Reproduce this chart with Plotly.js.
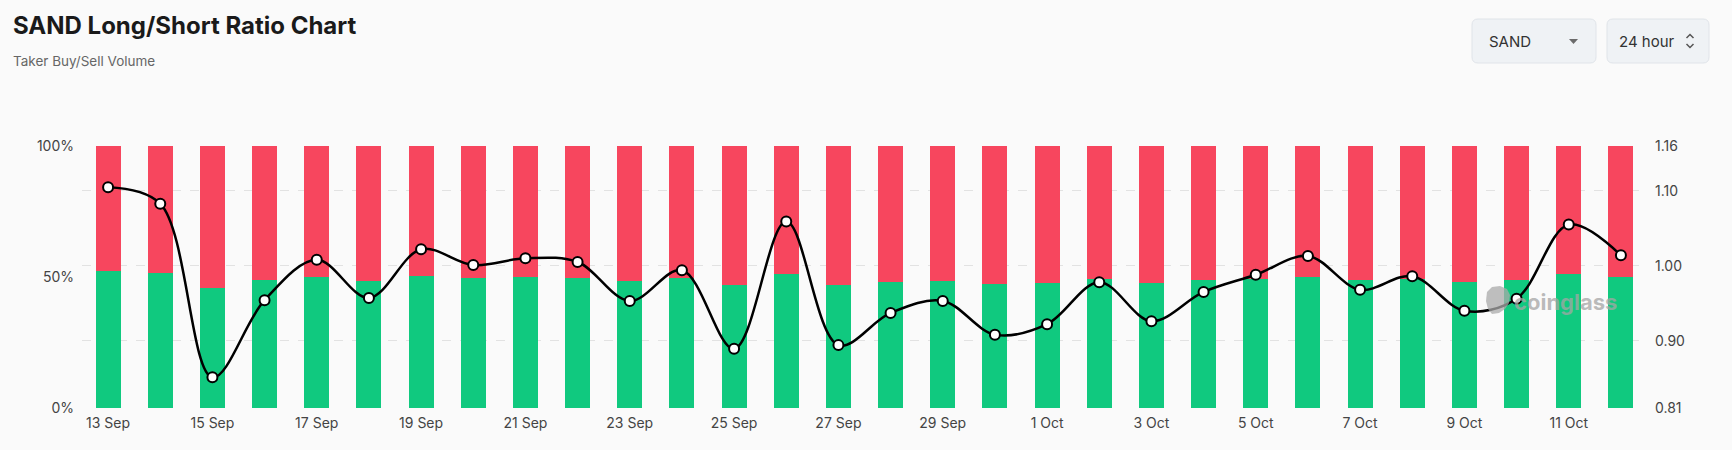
<!DOCTYPE html>
<html>
<head>
<meta charset="utf-8">
<script src="https://cdn.plot.ly/plotly-3.0.1.min.js"></script>
<style>
  html, body { margin: 0; padding: 0; background: #fafafa; }
  #chart { width: 1732px; height: 450px; }
</style>
</head>
<body>
<div id="chart"></div>
<script>
// ---- Data ----
const dates = ["13 Sep","14 Sep","15 Sep","16 Sep","17 Sep","18 Sep","19 Sep","20 Sep","21 Sep","22 Sep",
               "23 Sep","24 Sep","25 Sep","26 Sep","27 Sep","28 Sep","29 Sep","30 Sep","1 Oct","2 Oct",
               "3 Oct","4 Oct","5 Oct","6 Oct","7 Oct","8 Oct","9 Oct","10 Oct","11 Oct","12 Oct"];
const longPct  = [52.2, 51.7, 45.9, 48.7, 50.0, 48.6, 50.4, 49.8, 50.0, 49.8,
                  48.5, 49.8, 46.9, 51.3, 47.0, 48.2, 48.6, 47.5, 47.8, 49.1,
                  47.8, 48.9, 49.4, 50.0, 48.9, 49.1, 48.2, 48.7, 51.2, 50.1];
const shortPct = [47.8, 48.3, 54.1, 51.3, 50.0, 51.4, 49.6, 50.2, 50.0, 50.2,
                  51.5, 50.2, 53.1, 48.7, 53.0, 51.8, 51.4, 52.5, 52.2, 50.9,
                  52.2, 51.1, 50.6, 50.0, 51.1, 50.9, 51.8, 51.3, 48.8, 49.9];
const ratio    = [1.105, 1.083, 0.851, 0.954, 1.008, 0.957, 1.022, 1.001, 1.010, 1.005,
                  0.953, 0.994, 0.889, 1.059, 0.894, 0.937, 0.953, 0.908, 0.922, 0.978,
                  0.926, 0.965, 0.988, 1.013, 0.968, 0.986, 0.940, 0.956, 1.055, 1.014];
const xTickLabels = ["13 Sep","15 Sep","17 Sep","19 Sep","21 Sep","23 Sep","25 Sep","27 Sep",
                     "29 Sep","1 Oct","3 Oct","5 Oct","7 Oct","9 Oct","11 Oct"];
const leftTicks  = [0, 50, 100];
const leftLabels = ["0%", "50%", "100%"];
const rightTicks = [0.81, 0.90, 1.00, 1.10, 1.16];
const rightLabels = ["0.81", "0.90", "1.00", "1.10", "1.16"];

// ---- Layout geometry (pixels) ----
const W = 1732, H = 450;
const L = 82, R = 85, T = 146, B = 42;
const PW = W - L - R, PH = H - T - B;
const px = x => (x - L) / PW;          // pixel x -> paper x
const py = y => (H - B - y) / PH;      // pixel y -> paper y

function roundRect(x0, y0, x1, y1, r) {
  const X = v => px(v), Y = v => py(v);
  return `M ${X(x0 + r)} ${Y(y0)} L ${X(x1 - r)} ${Y(y0)} Q ${X(x1)} ${Y(y0)} ${X(x1)} ${Y(y0 + r)} ` +
         `L ${X(x1)} ${Y(y1 - r)} Q ${X(x1)} ${Y(y1)} ${X(x1 - r)} ${Y(y1)} ` +
         `L ${X(x0 + r)} ${Y(y1)} Q ${X(x0)} ${Y(y1)} ${X(x0)} ${Y(y1 - r)} ` +
         `L ${X(x0)} ${Y(y0 + r)} Q ${X(x0)} ${Y(y0)} ${X(x0 + r)} ${Y(y0)} Z`;
}
function pathPx(points, close) {
  return points.map((p, i) => (i ? "L " : "M ") + px(p[0]) + " " + py(p[1])).join(" ") + (close ? " Z" : "");
}

const FONT = "Inter, 'Noto Sans', sans-serif";

const traces = [
  {
    type: "bar", x: dates, y: longPct, name: "Long",
    marker: { color: "#10C97F" }, width: 0.48, yaxis: "y", hoverinfo: "skip"
  },
  {
    type: "bar", x: dates, y: shortPct, name: "Short",
    marker: { color: "#F7465E" }, width: 0.48, yaxis: "y", hoverinfo: "skip"
  },
  {
    type: "scatter", mode: "lines+markers", x: dates, y: ratio, name: "Long/Short Ratio",
    yaxis: "y2",
    line: { color: "#000000", width: 2.5, shape: "spline", smoothing: 1 },
    marker: { color: "#ffffff", size: 10, line: { color: "#000000", width: 2 } },
    cliponaxis: false, hoverinfo: "skip"
  }
];

const layout = {
  width: W, height: H,
  paper_bgcolor: "#fafafa", plot_bgcolor: "#fafafa",
  margin: { l: L, r: R, t: T, b: B, pad: 0 },
  barmode: "stack",
  showlegend: false,
  font: { family: FONT, color: "#444", size: 14 },
  xaxis: {
    type: "category",
    range: [-0.5, 29.5],
    tickmode: "array", tickvals: xTickLabels, ticktext: xTickLabels,
    showgrid: false, zeroline: false, showline: false, ticks: "",
    tickfont: { size: 14, color: "#444" },
    ticklabelstandoff: 5
  },
  yaxis: {
    range: [0, 100],
    tickmode: "array", tickvals: leftTicks, ticktext: leftLabels,
    showgrid: false, zeroline: false, showline: false, ticks: "",
    tickfont: { size: 14, color: "#444" },
    ticklabelstandoff: 7
  },
  yaxis2: {
    overlaying: "y", side: "right",
    range: [0.81, 1.16],
    tickmode: "array", tickvals: rightTicks, ticktext: rightLabels,
    showgrid: true, gridcolor: "#e2e2e2", griddash: "dash", gridwidth: 1,
    zeroline: false, showline: false, ticks: "",
    tickfont: { size: 14, color: "#444" },
    ticklabelstandoff: 7,
    layer: "below traces"
  },
  shapes: [
    // selector boxes
    { type: "path", xref: "paper", yref: "paper", path: roundRect(1472, 19, 1596, 63, 6),
      fillcolor: "#eff2f5", line: { color: "#e0e4e9", width: 1 } },
    { type: "path", xref: "paper", yref: "paper", path: roundRect(1607, 19, 1709, 63, 6),
      fillcolor: "#eff2f5", line: { color: "#e0e4e9", width: 1 } },
    // caret
    { type: "path", xref: "paper", yref: "paper", path: pathPx([[1569, 39], [1578, 39], [1573.5, 44]], true),
      fillcolor: "#6b6b6b", line: { width: 0 } },
    // up/down chevrons
    { type: "path", xref: "paper", yref: "paper", path: pathPx([[1686.5, 38], [1690, 34.5], [1693.5, 38]], false),
      line: { color: "#555", width: 1.5 } },
    { type: "path", xref: "paper", yref: "paper", path: pathPx([[1686.5, 44], [1690, 47.5], [1693.5, 44]], false),
      line: { color: "#555", width: 1.5 } },
    // watermark logo blob
    { type: "path", xref: "paper", yref: "paper",
      path: pathPx([[1487, 292], [1492, 287], [1500, 286], [1507, 289], [1510, 295], [1509, 303],
                    [1505, 309], [1499, 313], [1492, 314], [1488, 309], [1486, 301]], true),
      fillcolor: "rgba(170,170,170,0.75)", line: { width: 0 }, layer: "above" }
  ],
  annotations: [
    { xref: "paper", yref: "paper", x: px(11), y: py(26), xanchor: "left", yanchor: "middle",
      text: "<b>SAND Long/Short Ratio Chart</b>", showarrow: false,
      font: { family: FONT, size: 24, color: "#1a1a1a" } },
    { xref: "paper", yref: "paper", x: px(11), y: py(61), xanchor: "left", yanchor: "middle",
      text: "Taker Buy/Sell Volume", showarrow: false,
      font: { family: FONT, size: 13.5, color: "#666" } },
    { xref: "paper", yref: "paper", x: px(1487), y: py(41), xanchor: "left", yanchor: "middle",
      text: "SAND", showarrow: false, font: { family: FONT, size: 15, color: "#333" } },
    { xref: "paper", yref: "paper", x: px(1617), y: py(41), xanchor: "left", yanchor: "middle",
      text: "24 hour", showarrow: false, font: { family: FONT, size: 15, color: "#333" } },
    { xref: "paper", yref: "paper", x: px(1512), y: py(302), xanchor: "left", yanchor: "middle",
      text: "<b>coinglass</b>", showarrow: false,
      font: { family: FONT, size: 22, color: "rgba(165,165,165,0.75)" } }
  ]
};

Plotly.newPlot("chart", traces, layout, { staticPlot: true, displayModeBar: false });
</script>
</body>
</html>
